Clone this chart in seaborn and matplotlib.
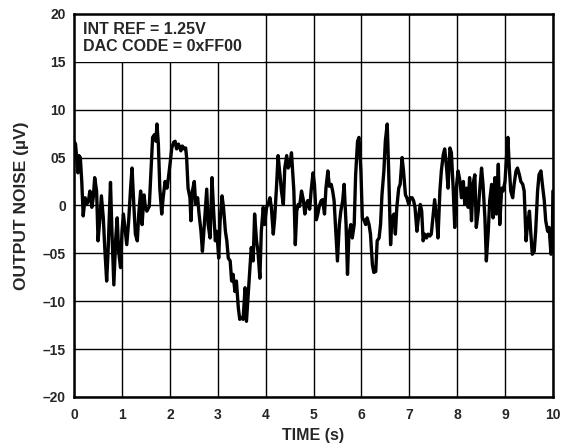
import numpy as np
import pandas as pd
import matplotlib
matplotlib.use("Agg")
import matplotlib.pyplot as plt
from matplotlib.patches import Rectangle
import seaborn as sns

# ---------- DATA ----------
TIME_S = [
    0.00, 0.03, 0.06, 0.08, 0.10, 0.13, 0.16, 0.19, 0.23, 0.26, 0.30, 0.33, 0.37, 0.40, 0.43, 0.47,
    0.50, 0.54, 0.57, 0.61, 0.64, 0.68, 0.71, 0.76, 0.79, 0.83, 0.87, 0.90, 0.93, 0.97, 1.00, 1.03,
    1.07, 1.10, 1.14, 1.18, 1.21, 1.25, 1.28, 1.32, 1.35, 1.39, 1.42, 1.46, 1.49, 1.52, 1.57, 1.61,
    1.64, 1.68, 1.71, 1.73, 1.76, 1.79, 1.83, 1.86, 1.90, 1.94, 1.97, 2.01, 2.04, 2.08, 2.11, 2.14,
    2.18, 2.23, 2.26, 2.30, 2.33, 2.35, 2.38, 2.42, 2.44, 2.47, 2.51, 2.54, 2.58, 2.61, 2.65, 2.68,
    2.72, 2.77, 2.80, 2.84, 2.88, 2.91, 2.95, 2.98, 3.02, 3.05, 3.09, 3.12, 3.16, 3.19, 3.22, 3.26,
    3.29, 3.32, 3.36, 3.39, 3.43, 3.46, 3.50, 3.53, 3.57, 3.60, 3.64, 3.67, 3.70, 3.74, 3.77, 3.81,
    3.84, 3.88, 3.91, 3.95, 3.98, 4.02, 4.05, 4.09, 4.12, 4.16, 4.19, 4.23, 4.26, 4.30, 4.33, 4.37,
    4.40, 4.44, 4.47, 4.51, 4.54, 4.59, 4.62, 4.65, 4.68, 4.71, 4.75, 4.79, 4.82, 4.85, 4.88, 4.92,
    4.95, 4.99, 5.02, 5.06, 5.09, 5.12, 5.16, 5.19, 5.23, 5.26, 5.30, 5.33, 5.37, 5.40, 5.43, 5.47,
    5.50, 5.54, 5.57, 5.61, 5.64, 5.68, 5.71, 5.74, 5.78, 5.81, 5.85, 5.88, 5.92, 5.95, 5.99, 6.02,
    6.06, 6.09, 6.12, 6.16, 6.19, 6.23, 6.26, 6.30, 6.33, 6.37, 6.40, 6.43, 6.47, 6.50, 6.54, 6.57,
    6.61, 6.64, 6.68, 6.71, 6.74, 6.78, 6.81, 6.85, 6.88, 6.92, 6.95, 6.99, 7.02, 7.06, 7.09, 7.12,
    7.16, 7.19, 7.23, 7.26, 7.29, 7.32, 7.36, 7.39, 7.43, 7.46, 7.50, 7.53, 7.57, 7.60, 7.64, 7.67,
    7.71, 7.74, 7.78, 7.81, 7.85, 7.88, 7.92, 7.95, 7.99, 8.02, 8.06, 8.09, 8.13, 8.16, 8.20, 8.23,
    8.26, 8.30, 8.33, 8.37, 8.40, 8.44, 8.47, 8.51, 8.54, 8.58, 8.61, 8.65, 8.68, 8.72, 8.75, 8.79,
    8.82, 8.86, 8.89, 8.93, 8.96, 9.00, 9.03, 9.06, 9.09, 9.12, 9.16, 9.19, 9.23, 9.26, 9.30, 9.33,
    9.37, 9.40, 9.44, 9.47, 9.51, 9.54, 9.57, 9.61, 9.64, 9.68, 9.71, 9.75, 9.78, 9.82, 9.85, 9.89,
    9.92, 9.96, 9.99, 10.00,
]
NOISE_UV = [
    6.7, 6.4, 4.6, 3.4, 5.2, 5.0, 2.5, -1.1, 0.8, 0.1, 0.5, 1.5, -0.2, 0.8, 2.9, 1.5,
    -3.7, -1.3, 1.0, -1.3, -4.4, -7.9, -4.8, 2.4, -2.7, -8.3, -3.4, -1.3, -4.8, -6.5, -2.7, -0.9,
    -2.7, -4.1, -1.6, 1.8, 3.9, -0.2, -3.0, -3.7, -0.9, 1.5, -2.0, 1.1, -0.2, -0.6, -0.1, 3.9,
    7.1, 7.4, 6.7, 8.5, 6.4, 1.8, -0.9, 0.8, 2.5, 1.8, 2.9, 4.6, 6.0, 6.6, 6.7, 5.9,
    6.4, 5.7, 6.2, 5.9, 6.0, 5.0, 1.8, 0.8, -1.6, 1.5, 2.5, 0.1, 0.8, -0.9, -2.7, -4.8,
    -2.0, 1.7, -2.0, -3.4, 2.9, -0.2, -3.7, -2.7, -5.5, -1.6, 1.0, -0.2, -2.7, -3.7, -5.5, -5.8,
    -7.9, -7.2, -9.0, -7.9, -10.7, -11.9, -11.7, -11.9, -8.6, -12.1, -9.0, -6.5, -4.4, -5.8, -0.9, -3.7,
    -4.8, -7.6, -2.7, -0.2, -2.0, -0.2, 0.1, 0.8, -0.2, -3.0, -1.3, 2.2, 5.2, 3.2, 1.5, 0.1,
    3.9, 5.2, 3.9, 4.3, 5.5, 1.5, -4.1, -0.6, 0.1, -0.1, 1.5, 0.5, -0.9, 0.1, 0.5, -0.4,
    1.5, 3.4, 2.2, -1.5, -0.9, -0.1, 0.5, 0.6, -0.9, 1.8, 3.6, 2.0, 2.2, 1.5, 0.5, -3.0,
    -5.8, -2.0, -0.6, 0.5, 2.2, -2.0, -7.2, -3.0, -2.0, -3.4, -2.0, 3.2, 6.7, 7.1, 3.6, -1.3,
    -1.6, -2.0, -1.3, -2.0, -3.0, -6.2, -7.0, -6.9, -3.7, -3.4, -2.0, 1.1, 3.6, 6.7, 8.5, 3.6,
    -4.1, -1.3, -0.9, -3.0, -0.2, 1.8, 2.2, 5.0, 3.6, 1.1, 0.8, 0.1, 0.8, 0.8, 0.5, -0.2,
    -2.7, -1.3, 0.1, -0.6, -3.7, -3.0, -3.4, -3.0, -3.2, -3.0, -0.9, 0.6, -1.3, -3.4, 1.5, 3.6,
    5.3, 5.9, 3.9, 1.8, 6.0, 5.5, 1.5, -2.3, 2.2, 3.6, 2.5, 0.8, 2.5, 0.1, 1.8, -0.2,
    2.9, -1.6, 2.2, 3.2, -2.3, -0.6, 1.5, 3.9, 2.2, -1.3, -5.8, -2.7, 0.5, 2.2, -1.3, 2.9,
    -0.9, 4.3, -2.0, 1.8, 1.5, 2.5, 5.0, 7.1, 3.9, 1.5, 0.8, 2.2, 3.6, 3.9, 3.2, 2.5,
    2.2, 1.5, -3.7, -2.0, -0.6, -3.0, -5.1, -4.8, -2.7, 1.5, 3.2, 3.6, 2.2, 0.5, -1.6, -2.7,
    -2.3, -5.1, -3.0, 1.5,
]
X_TICKS = list(range(0, 11))
Y_TICKS = [20, 15, 10, 5, 0, -5, -10, -15, -20]
Y_TICK_LABELS = ["20", "15", "10", "05", "0", "\u201305", "\u201310", "\u201315", "\u201320"]
NOTE_LINES = ["INT REF = 1.25V", "DAC CODE = 0xFF00"]

# ---------- STYLE ----------
sns.set_style("white")
plt.rcParams.update({
    "font.family": ["Liberation Sans", "DejaVu Sans"],
    "font.weight": "bold",
    "font.size": 10,
})

df = pd.DataFrame({"t": TIME_S, "v": NOISE_UV})

fig = plt.figure(figsize=(5.7, 4.48), dpi=100)
ax = fig.add_axes([0.130, 0.114, 0.840, 0.855])

sns.lineplot(data=df, x="t", y="v", ax=ax, color="black", linewidth=2.4, sort=False)

ax.set_xlim(0, 10)
ax.set_ylim(-20, 20)
ax.set_xticks(X_TICKS)
ax.set_xticklabels([str(x) for x in X_TICKS], fontweight="bold")
ax.set_yticks(Y_TICKS)
ax.set_yticklabels(Y_TICK_LABELS, fontweight="bold")
ax.tick_params(length=0, labelsize=10)
ax.tick_params(axis="y", pad=6)
ax.tick_params(axis="x", pad=8)

ax.grid(True, color="black", linewidth=1.0)
ax.set_axisbelow(True)
for s in ax.spines.values():
    s.set_color("black")
    s.set_linewidth(1.8)

ax.set_xlabel("TIME (s)", fontweight="bold", fontsize=11.5, labelpad=4)
ax.set_ylabel("OUTPUT NOISE (\u00b5V)", fontweight="bold", fontsize=12.5, labelpad=10)

# the note box blanks out the grid in the top-left cells
ax.add_patch(Rectangle((0, 15), 3.97, 5, facecolor="white", edgecolor="none", zorder=1))
ax.text(0.19, 17.9, NOTE_LINES[0], ha="left", va="baseline",
        fontsize=11.5, fontweight="bold", zorder=3)
ax.text(0.19, 16.15, NOTE_LINES[1], ha="left", va="baseline",
        fontsize=11.5, fontweight="bold", zorder=3)

fig.savefig("out.png", dpi=100)
